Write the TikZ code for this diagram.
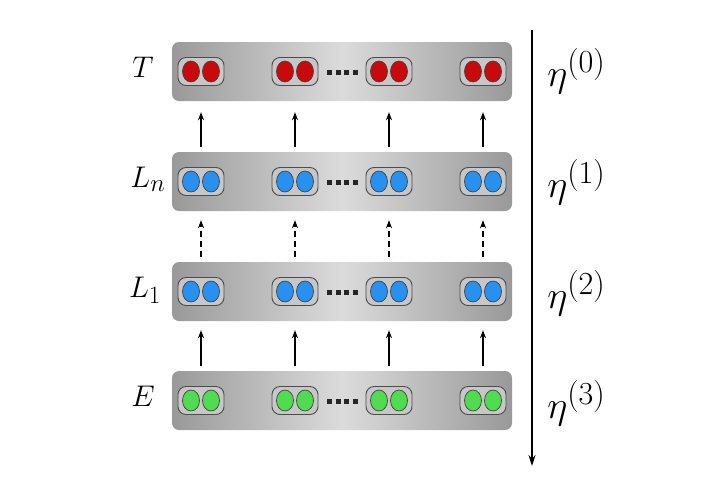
\documentclass[tikz,border=0pt]{standalone}
\usetikzlibrary{arrows.meta,calc,shapes.geometric}
\definecolor{cred}{RGB}{200,10,12}
\definecolor{cblue}{RGB}{40,145,240}
\definecolor{cgreen}{RGB}{80,220,80}
\begin{document}
\begin{tikzpicture}[x=1pt,y=-1pt,
  bar/.style={rectangle, rounded corners=7pt, minimum width=340pt, minimum height=59pt, inner sep=0pt,
    left color=black!40, right color=black!40, middle color=black!14},
  pair/.style={rectangle, rounded corners=8pt, minimum width=46pt, minimum height=28pt, inner sep=0pt,
    fill=black!22, draw=black!70, line width=0.9pt},
  blob/.style={ellipse, minimum width=17pt, minimum height=21pt, inner sep=0pt, draw=black!75, line width=0.7pt},
  sq/.style={rectangle, fill=black!85, minimum size=5pt, inner sep=0pt},
  arr/.style={line width=1.1pt, -{Stealth[length=8pt,width=6pt]}},
  lab/.style={anchor=base, font=\Huge, scale=1.2, inner sep=0pt},
  eta/.style={anchor=base west, font=\Huge, scale=1.55, inner sep=0pt}
]
\useasboundingbox (0,0) rectangle (704,483);
\foreach \r/\y/\col in {1/71.5/cred,2/181.5/cblue,3/291.5/cblue,4/400.5/cgreen} {
  \node[bar] (b\r) at (342,\y) {};
  \foreach \c/\x in {1/201,2/295,3/389,4/483} {
    \node[pair] (p\r\c) at (\x,\y) {};
    \node[blob, fill=\col] (p\r\c a) at (\x-10,\y) {};
    \node[blob, fill=\col] (p\r\c b) at (\x+10,\y) {};
  }
  \foreach \k in {0,...,3} \node[sq] (d\r\k) at (329.5+\k*8.5,\y+0.5) {};
}
\foreach \c in {1,2,3,4} {
  \draw[arr, shorten <=5pt, shorten >=11pt] (b2.north -| p2\c) -- (b1.south -| p1\c);
  \draw[arr, dashed, dash pattern=on 6pt off 4pt, shorten <=5pt, shorten >=9pt] (b3.north -| p3\c) -- (b2.south -| p2\c);
  \draw[arr, shorten <=5pt, shorten >=9pt] (b4.north -| p4\c) -- (b3.south -| p3\c);
}
\node[lab] (lT) at (143,77.5) {$T$};
\node[lab] (lLn) at (148,187.5) {$L_n$};
\node[lab] (lL1) at (145,297.5) {$L_1$};
\node[lab] (lE) at (143,406.5) {$E$};
\coordinate (vtop) at (532,30);
\coordinate (vbot) at (532,466);
\draw[line width=1.6pt, -{Stealth[length=11pt,width=7pt]}] (vtop) -- (vbot);
\node[eta] (e0) at (547,86) {$\eta^{(0)}$};
\node[eta] (e1) at (547,197) {$\eta^{(1)}$};
\node[eta] (e2) at (547,308) {$\eta^{(2)}$};
\node[eta] (e3) at (547,418) {$\eta^{(3)}$};
\end{tikzpicture}
\end{document}
